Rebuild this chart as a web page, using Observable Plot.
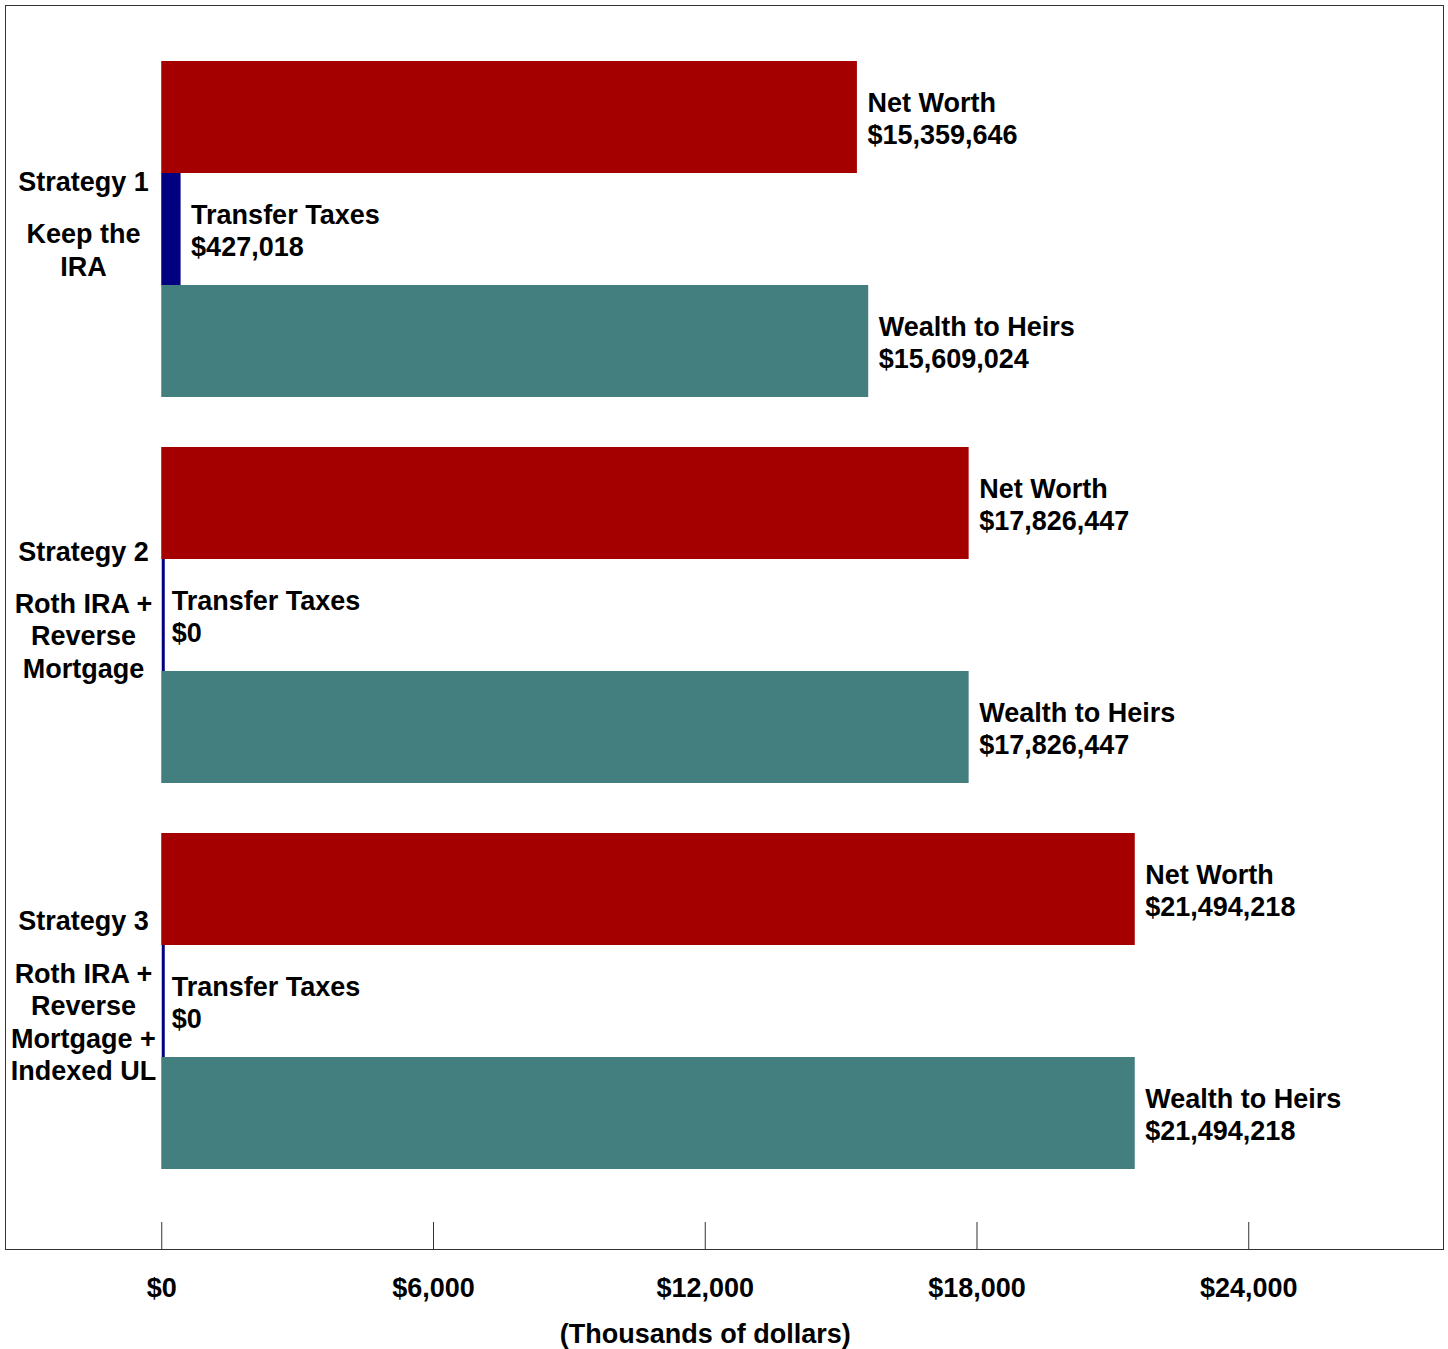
<!DOCTYPE html>
<html><head><meta charset="utf-8">
<script src="https://cdn.jsdelivr.net/npm/d3@7"></script>
<script src="https://cdn.jsdelivr.net/npm/@observablehq/plot@0.6"></script>
<style>body{margin:0;background:#fff;} svg{display:block}</style>
</head><body><div id="chart"></div>
<script>
const strategies = ["Strategy 1", "Strategy 2", "Strategy 3"];
const descriptions = ["Keep the\nIRA", "Roth IRA +\nReverse\nMortgage", "Roth IRA +\nReverse\nMortgage +\nIndexed UL"];
const metrics = ["Net Worth", "Transfer Taxes", "Wealth to Heirs"];
const netWorth = [15359646, 17826447, 21494218];
const transferTaxes = [427018, 0, 0];
const wealthToHeirs = [15609024, 17826447, 21494218];
const xTicks = [0, 6000, 12000, 18000, 24000];
const axisLabel = "(Thousands of dollars)";
const colors = ["#A50000", "#000080", "#437F7E"];

const series = [netWorth, transferTaxes, wealthToHeirs];
const rows = [];
strategies.forEach((s, i) => metrics.forEach((m, j) => rows.push({strategy: s, metric: m, value: series[j][i]})));
const fmt = d3.format(",");
const font = {fontSize: 27, fontWeight: "bold", fill: "black"};
const lh = 32.5 / 27;
const xv = d => d.value / 1000;

const titleMarks = strategies.map((s, i) => {
  const n = descriptions[i].split("\n").length;
  return Plot.text([s], {fy: d => d, text: d => d, frameAnchor: "left", dx: 78,
    dy: -5 - (52 + (n - 1) * 32.5) / 2, textAnchor: "middle", ...font});
});

const chart = Plot.plot({
  width: 1448, height: 1349,
  marginTop: 5, marginBottom: 100, marginLeft: 5, marginRight: 5,
  style: {fontFamily: "'Liberation Sans', Arial, sans-serif", background: "white", color: "black"},
  x: {domain: [-3450, 28300], axis: null},
  y: {domain: metrics, padding: 0, axis: null},
  fy: {domain: strategies, paddingInner: 50 / 386, paddingOuter: 68 / 386, align: 56 / 136, axis: null},
  color: {domain: metrics, range: colors},
  marks: [
    Plot.frame({facet: "super", stroke: "#333", insetTop: -56, insetBottom: -80}),
    Plot.barX(rows, {x: xv, y: "metric", fy: "strategy", fill: "metric"}),
    Plot.tickX(rows.filter(d => d.metric === "Transfer Taxes" && d.value === 0),
      {x: xv, y: "metric", fy: "strategy", stroke: colors[1], strokeWidth: 3, dx: 1.5}),
    Plot.text(rows, {x: xv, y: "metric", fy: "strategy", text: d => `${d.metric}\n$${fmt(d.value)}`,
      textAnchor: "start", dx: 10, dy: 0, lineHeight: lh, ...font}),
    ...titleMarks,
    Plot.text(strategies, {fy: d => d, text: (d, i) => descriptions[i], frameAnchor: "left", dx: 78, dy: 19.5,
      lineHeight: lh, textAnchor: "middle", ...font}),
    Plot.axisX(xTicks, {tickSize: 27, dy: 53, tickFormat: () => "", label: null, stroke: "#333"}),
    Plot.axisX(xTicks, {tickSize: 0, tickPadding: 108, tickFormat: d => "$" + fmt(d), label: null, ...font}),
    Plot.text([axisLabel], {fy: () => strategies[2], x: d3.mean([xTicks[0], xTicks[xTicks.length - 1]]),
      frameAnchor: "bottom", dy: 173, text: d => d, textAnchor: "middle", ...font})
  ]
});
document.getElementById("chart").appendChild(chart);
</script>
</body></html>
